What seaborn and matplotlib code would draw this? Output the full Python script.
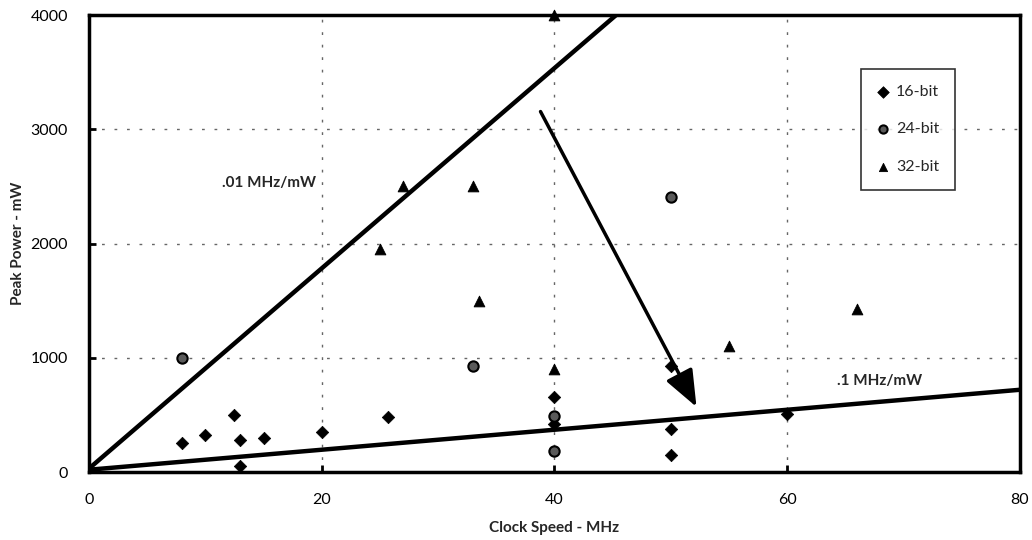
import matplotlib
matplotlib.use("Agg")
import matplotlib.pyplot as plt
import seaborn as sns
import pandas as pd

# ---- data ----
x16 = [8, 10, 12.5, 13, 15, 13, 20, 25.7, 40, 40, 50, 50, 50, 60]
y16 = [250, 320, 500, 280, 300, 50, 350, 480, 660, 420, 380, 150, 930, 510]
x24 = [8, 33, 40, 40, 50]
y24 = [1000, 930, 490, 180, 2410]
x32 = [27, 33, 25, 33.5, 40, 40, 55, 66]
y32 = [2500, 2500, 1950, 1500, 4000, 900, 1100, 1430]
series_names = ["16-bit", "24-bit", "32-bit"]

line_fast_x = [0, 45.3]      # .01 MHz/mW boundary
line_fast_y = [30, 4000]
line_slow_x = [0, 80]        # .1 MHz/mW boundary
line_slow_y = [20, 720]

x_ticks = [0, 20, 40, 60, 80]
y_ticks = [0, 1000, 2000, 3000, 4000]

df = pd.concat([
    pd.DataFrame({"clock": x16, "power": y16, "type": "16-bit"}),
    pd.DataFrame({"clock": x24, "power": y24, "type": "24-bit"}),
    pd.DataFrame({"clock": x32, "power": y32, "type": "32-bit"}),
])

sns.set_theme(style="white")
plt.rcParams["font.family"] = ["Lato", "DejaVu Sans"]

fig = plt.figure(figsize=(10.32, 5.4), dpi=100)
ax = fig.add_axes([0.0862, 0.1259, 0.9022, 0.8463])

styles = {
    "16-bit": dict(marker="D", s=40, color="black", edgecolor="black"),
    "24-bit": dict(marker="o", s=55, color="#5a5a5a", edgecolor="black", linewidth=1.5),
    "32-bit": dict(marker="^", s=60, color="black", edgecolor="black"),
}
for name in series_names:
    sub = df[df["type"] == name]
    sns.scatterplot(data=sub, x="clock", y="power", ax=ax, label=name,
                    zorder=4, clip_on=False, **styles[name])

ax.plot(line_fast_x, line_fast_y, color="black", lw=3.2, zorder=3, solid_capstyle="butt")
ax.plot(line_slow_x, line_slow_y, color="black", lw=3.2, zorder=3, solid_capstyle="butt")

ax.annotate("", xy=(52.2, 570), xytext=(38.8, 3155),
            arrowprops=dict(arrowstyle="-|>,head_length=0.75,head_width=0.3", lw=2.5,
                            color="black", mutation_scale=30, shrinkA=0, shrinkB=0),
            zorder=5)

ax.text(11.4, 2530, ".01 MHz/mW", fontsize=11, fontweight="bold", va="center", ha="left")
ax.text(64.3, 800, ".1 MHz/mW", fontsize=11, fontweight="bold", va="center", ha="left")

ax.set_xlim(0, 80)
ax.set_ylim(0, 4000)
ax.set_xticks(x_ticks)
ax.set_yticks(y_ticks)
ax.grid(True, color="#666666", linestyle=(0, (2, 7)), lw=1)
ax.set_axisbelow(True)
for sp in ax.spines.values():
    sp.set_visible(True)
    sp.set_color("black")
    sp.set_linewidth(2.5)
ax.tick_params(axis="both", direction="in", length=5, width=2, colors="black",
               labelsize=11.5, left=True, bottom=True)
ax.tick_params(axis="y", pad=15)
ax.tick_params(axis="x", pad=15)
ax.set_xlabel("Clock Speed - MHz", fontsize=11, fontweight="bold", labelpad=10)
ax.set_ylabel("Peak Power - mW", fontsize=11, fontweight="bold", labelpad=4)

leg = ax.legend(loc="upper left", bbox_to_anchor=(0.829, 0.882), frameon=True,
                fancybox=False, edgecolor="black", fontsize=11.5,
                borderpad=1.0, labelspacing=1.45, handletextpad=0.4,
                handlelength=0.8, borderaxespad=0)
leg.get_frame().set_linewidth(1.2)
for h in leg.legend_handles:
    h.set_sizes([35])

fig.savefig("out.png", dpi=100)
